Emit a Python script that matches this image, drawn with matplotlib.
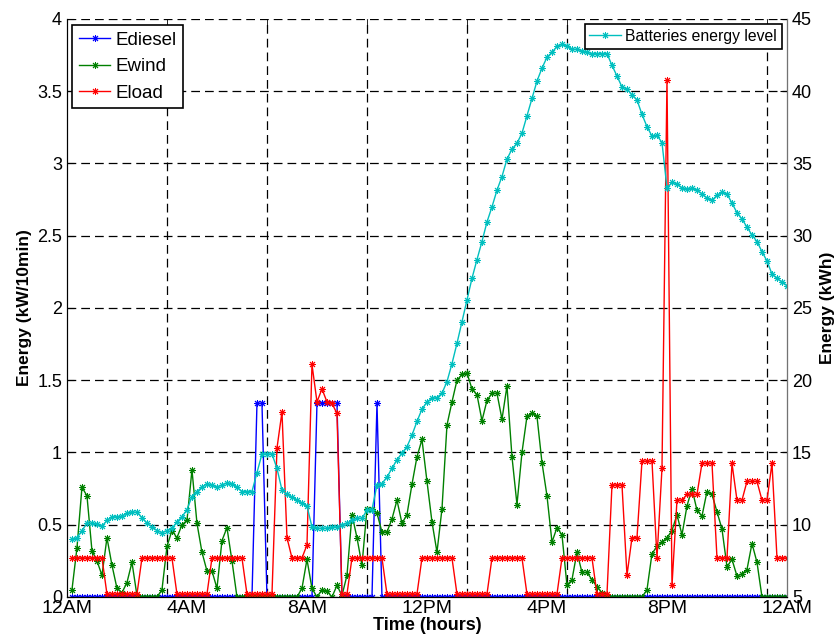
import matplotlib
matplotlib.use('Agg')
import matplotlib.pyplot as plt
import numpy as np

plt.rcParams['font.family'] = ['Liberation Sans', 'DejaVu Sans']

# 10-minute steps over one day
steps = list(range(1, 145))

tick_pos = [0, 24, 48, 72, 96, 120, 144]
tick_labels = ['12AM', '4AM', '8AM', '12PM', '4PM', '8PM', '12AM']

ediesel = [
    0, 0, 0, 0, 0, 0, 0, 0, 0, 0, 0, 0,
    0, 0, 0, 0, 0, 0, 0, 0, 0, 0, 0, 0,
    0, 0, 0, 0, 0, 0, 0, 0, 0, 0, 0, 0,
    0, 1.34, 1.34, 0, 0, 0, 0, 0, 0, 0, 0, 0,
    0, 1.34, 1.34, 1.34, 1.34, 1.34, 0, 0, 0, 0, 0, 0,
    0, 1.34, 0, 0, 0, 0, 0, 0, 0, 0, 0, 0,
    0, 0, 0, 0, 0, 0, 0, 0, 0, 0, 0, 0,
    0, 0, 0, 0, 0, 0, 0, 0, 0, 0, 0, 0,
    0, 0, 0, 0, 0, 0, 0, 0, 0, 0, 0, 0,
    0, 0, 0, 0, 0, 0, 0, 0, 0, 0, 0, 0,
    0, 0, 0, 0, 0, 0, 0, 0, 0, 0, 0, 0,
    0, 0, 0, 0, 0, 0, 0, 0, 0, 0, 0, 0,
]

ewind = [
    0.05, 0.34, 0.76, 0.70, 0.32, 0.25, 0.15, 0.41, 0.22, 0.06, 0.03, 0.10,
    0.24, 0.01, 0, 0, 0, 0, 0.05, 0.35, 0.46, 0.41, 0.50, 0.53,
    0.88, 0.51, 0.31, 0.18, 0.18, 0.06, 0.39, 0.48, 0.25, 0, 0, 0,
    0, 0, 0, 0, 0, 0, 0, 0, 0, 0, 0.06, 0.26,
    0.06, 0, 0.05, 0.04, 0, 0.08, 0.01, 0.15, 0.57, 0.41, 0.22, 0.61,
    0.61, 0.58, 0.45, 0.45, 0.54, 0.67, 0.51, 0.57, 0.78, 0.97, 1.09, 0.80,
    0.52, 0.31, 0.61, 1.19, 1.35, 1.50, 1.54, 1.55, 1.44, 1.40, 1.22, 1.36,
    1.41, 1.41, 1.23, 1.46, 0.97, 0.64, 1.00, 1.25, 1.27, 1.25, 0.93, 0.70,
    0.38, 0.48, 0.43, 0.08, 0.12, 0.31, 0.17, 0.17, 0.12, 0.07, 0.03, 0,
    0, 0, 0, 0, 0, 0, 0, 0.05, 0.30, 0.35, 0.38, 0.41,
    0.46, 0.57, 0.43, 0.63, 0.75, 0.60, 0.56, 0.73, 0.71, 0.59, 0.47, 0.21,
    0.26, 0.145, 0.16, 0.19, 0.37, 0.24, 0, 0, 0, 0, 0, 0,
]

eload = [
    0.27, 0.27, 0.27, 0.27, 0.27, 0.27, 0.27, 0.02, 0.02, 0.02, 0.02, 0.02,
    0.02, 0.02, 0.27, 0.27, 0.27, 0.27, 0.27, 0.27, 0.27, 0.02, 0.02, 0.02,
    0.02, 0.02, 0.02, 0.02, 0.27, 0.27, 0.27, 0.27, 0.27, 0.27, 0.27, 0.02,
    0.02, 0.02, 0.02, 0.02, 0.02, 1.03, 1.28, 0.41, 0.27, 0.27, 0.27, 0.36,
    1.61, 1.35, 1.44, 1.35, 1.34, 1.27, 0.02, 0.02, 0.27, 0.27, 0.27, 0.27,
    0.27, 0.27, 0.27, 0.02, 0.02, 0.02, 0.02, 0.02, 0.02, 0.02, 0.27, 0.27,
    0.27, 0.27, 0.27, 0.27, 0.27, 0.02, 0.02, 0.02, 0.02, 0.02, 0.02, 0.02,
    0.27, 0.27, 0.27, 0.27, 0.27, 0.27, 0.27, 0.02, 0.02, 0.02, 0.02, 0.02,
    0.02, 0.02, 0.27, 0.27, 0.27, 0.27, 0.27, 0.27, 0.27, 0.02, 0.02, 0.02,
    0.775, 0.775, 0.775, 0.15, 0.41, 0.41, 0.94, 0.94, 0.94, 0.27, 0.89, 3.58,
    0.08, 0.67, 0.67, 0.71, 0.71, 0.71, 0.925, 0.925, 0.925, 0.27, 0.27, 0.27,
    0.925, 0.67, 0.67, 0.80, 0.80, 0.80, 0.67, 0.67, 0.925, 0.27, 0.27, 0.27,
]

# battery state of charge, kWh
battery = [
    9.0, 9.1, 9.6, 10.1, 10.1, 10.05, 9.9, 10.3, 10.55, 10.55, 10.6, 10.8,
    10.9, 10.85, 10.5, 10.1, 9.85, 9.6, 9.45, 9.6, 9.75, 10.2, 10.55, 11.05,
    11.95, 12.3, 12.6, 12.85, 12.75, 12.6, 12.75, 12.9, 12.85, 12.6, 12.3, 12.3,
    12.3, 13.6, 14.9, 14.9, 14.9, 13.9, 12.4, 12.1, 11.9, 11.7, 11.5, 11.3,
    9.85, 9.75, 9.75, 9.75, 9.85, 9.85, 10.0, 10.1, 10.3, 10.45, 10.45, 11.0,
    11.05, 12.75, 12.85, 13.3, 13.9, 14.5, 14.95, 15.4, 16.2, 17.15, 18.0, 18.5,
    18.75, 18.8, 19.1, 19.9, 21.15, 22.55, 24.05, 25.55, 27.05, 28.35, 29.6, 30.95,
    32.0, 33.15, 34.1, 35.3, 36.0, 36.4, 37.1, 38.3, 39.5, 40.7, 41.6, 42.35,
    42.7, 43.1, 43.25, 43.1, 42.9, 42.9, 42.8, 42.7, 42.6, 42.6, 42.6, 42.6,
    41.8, 41.05, 40.3, 40.15, 39.75, 39.4, 38.4, 37.55, 36.9, 36.95, 36.45, 33.3,
    33.7, 33.6, 33.3, 33.25, 33.3, 33.15, 32.9, 32.6, 32.45, 32.8, 33.0, 32.9,
    32.25, 31.6, 31.15, 30.6, 30.05, 29.6, 28.9, 28.25, 27.35, 27.05, 26.8, 26.55,
]

fig = plt.figure(figsize=(8.35, 6.44), dpi=100)
ax = fig.add_axes([0.0802, 0.073, 0.8623, 0.8975])

# 8-spoke asterisk markers
mk = dict(marker=(8, 2, 0), markersize=5, markeredgewidth=0.7, linewidth=1.0)
ax.plot(steps, ediesel, color='#0000ff', label='Ediesel', **mk)
ax.plot(steps, ewind, color='#008000', label='Ewind', **mk)
ax.plot(steps, eload, color='#ff0000', label='Eload', **mk)

ax.set_xlim(0, 144)
ax.set_ylim(0, 4)
ax.set_yticks(np.arange(0, 4.01, 0.5))
ax.set_yticklabels(['0', '0.5', '1', '1.5', '2', '2.5', '3', '3.5', '4'])
ax.set_xticks(tick_pos)
ax.set_xticklabels(tick_labels)
ax.set_xticks(range(20, 141, 20), minor=True)
ax.tick_params(axis='x', which='major', length=0, labelsize=14, pad=2)
ax.tick_params(axis='x', which='minor', direction='in', length=5, top=True)
ax.tick_params(axis='y', direction='in', length=5, labelsize=13)

gkw = dict(color='black', linestyle=(0, (7, 4)), linewidth=0.9)
ax.grid(False)
ax.grid(True, which='minor', axis='x', **gkw)
ax.grid(True, which='major', axis='y', **gkw)
ax.set_axisbelow(True)

ax.set_xlabel('Time (hours)', fontsize=13, fontweight='bold', labelpad=0)
ax.set_ylabel('Energy (kW/10min)', fontsize=12.5, fontweight='bold', labelpad=4)

ax2 = ax.twinx()
ax2.plot(steps, battery, color='#00bfbf', label='Batteries energy level', **mk)
ax2.set_ylim(5, 45)
ax2.set_yticks(range(5, 46, 5))
ax2.tick_params(axis='y', direction='in', length=5, labelsize=13)
ax2.set_ylabel('Energy (kWh)', fontsize=12.5, fontweight='bold', labelpad=6)

for a in (ax, ax2):
    a.spines['top'].set_visible(False)
    a.spines['left'].set_color('black')
    a.spines['bottom'].set_color('black')
ax2.spines['right'].set_color('0.45')

leg1 = ax.legend(loc='upper left', bbox_to_anchor=(0.007, 0.9896), fontsize=13.5,
                 numpoints=1, handlelength=1.7, handletextpad=0.25,
                 labelspacing=0.5, borderpad=0.35, borderaxespad=0,
                 fancybox=False, framealpha=1, edgecolor='black')
leg1.get_frame().set_linewidth(1.2)

leg2 = ax2.legend(loc='upper right', bbox_to_anchor=(0.993, 0.991), fontsize=11.3,
                  numpoints=1, handlelength=2.0, handletextpad=0.3,
                  borderpad=0.3, borderaxespad=0, fancybox=False,
                  framealpha=1, edgecolor='black')
leg2.get_frame().set_linewidth(1.2)

fig.savefig('out.png', dpi=100)
